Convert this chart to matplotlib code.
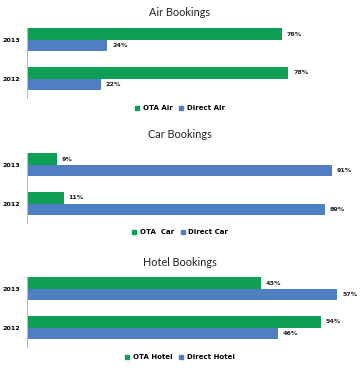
import matplotlib
matplotlib.use('agg')
from matplotlib import pyplot as plt
from matplotlib.lines import Line2D

years = ['2013', '2012']
titles = ['Air Bookings', 'Car Bookings', 'Hotel Bookings']
ota_labels = ['OTA Air', 'OTA  Car', 'OTA Hotel']
direct_labels = ['Direct Air', 'Direct Car', 'Direct Hotel']
ota_values = [[76, 78], [9, 11], [43, 54]]
direct_values = [[24, 22], [91, 89], [57, 46]]
x_max = [100, 100, 61.5]

GREEN = '#0f9e55'
BLUE = '#4f7fc1'
W, H = 360, 368

fig = plt.figure(figsize=(W / 100, H / 100), dpi=100)
fig.patch.set_facecolor('white')

# pixel layout: (axes top, axes bottom, title y, legend y)
layout = [(28, 98, 12, 108), (153, 223, 135, 232), (277, 347, 262, 357)]

for i, (top, bot, ty, ly) in enumerate(layout):
    ax = fig.add_axes([27 / W, 1 - bot / H, 335 / W, (bot - top) / H])
    pos = [1, 0]
    h = 0.29
    ax.barh([p + h / 2 for p in pos], ota_values[i], height=h, color=GREEN)
    ax.barh([p - h / 2 for p in pos], direct_values[i], height=h, color=BLUE)
    for p, v in zip(pos, ota_values[i]):
        ax.annotate(f'{v}%', (v, p + h / 2), xytext=(3.5, 0), textcoords='offset points',
                    va='center', fontsize=4.6, fontweight='bold', color='#222222')
    for p, v in zip(pos, direct_values[i]):
        ax.annotate(f'{v}%', (v, p - h / 2), xytext=(3.5, 0), textcoords='offset points',
                    va='center', fontsize=4.6, fontweight='bold', color='#222222')
    ax.set_xlim(0, x_max[i])
    ax.set_ylim(-0.5, 1.3)
    ax.set_yticks(pos)
    ax.set_yticklabels(years, fontsize=4.6, fontweight='bold')
    ax.tick_params(axis='y', length=0, pad=5)
    ax.set_xticks([])
    for s in ['top', 'right', 'bottom']:
        ax.spines[s].set_visible(False)
    ax.spines['left'].set_color('#bbbbbb')
    ax.spines['left'].set_linewidth(0.8)

    fig.text(180 / W, 1 - ty / H, titles[i], ha='center', va='center', fontsize=7.8,
             family='Lato', color='#222222')
    handles = [Line2D([], [], marker='s', linestyle='', color=GREEN, markersize=3.2),
               Line2D([], [], marker='s', linestyle='', color=BLUE, markersize=3.2)]
    fig.legend(handles, [ota_labels[i], direct_labels[i]], loc='center',
               bbox_to_anchor=(180 / W, 1 - ly / H), ncol=2, frameon=False,
               prop={'size': 5.0, 'weight': 'bold'}, handletextpad=0.5,
               columnspacing=1.0, handlelength=0.6)

fig.savefig('out.png', dpi=100)
